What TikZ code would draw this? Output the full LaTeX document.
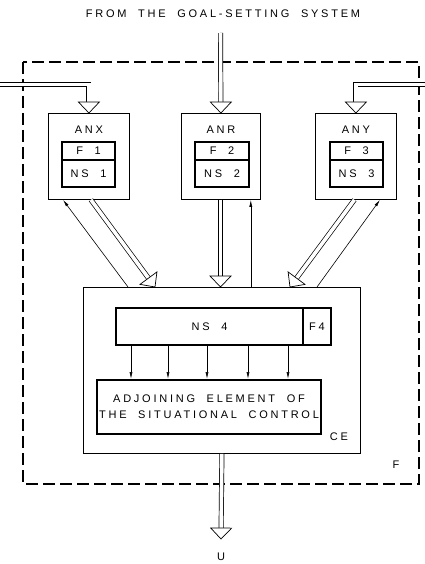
\documentclass[tikz,border=0pt]{standalone}
\usepackage{fontspec}
\setmainfont{Liberation Sans}[LetterSpace=25,WordSpace=2]
\usetikzlibrary{calc,arrows.meta}

\tikzset{
  lettering/.style={font=\fontsize{11}{14}\selectfont, inner sep=0pt},
  unitbox/.style={draw, line width=0.8pt, anchor=north west, inner sep=0pt},
  heavybox/.style={draw, line width=2pt, anchor=north west, inner sep=0pt, lettering},
  shaft/.style={double, double distance=3.6pt, line width=0.7pt, line join=miter},
  head/.style={line width=0.7pt, fill=white, line join=miter},
  sig/.style={line width=0.6pt, -{Latex[length=7pt,width=3pt]}},
  frame/.style={line width=1.1pt, dash pattern=on 12pt off 5pt}
}

% wide hollow arrow: head only, and shaft plus head
\newcommand{\hollowhead}[2]{%
  \coordinate (hb) at ($(#2)!11pt!(#1)$);
  \draw[head] (#2) -- ($(hb)!10.5pt!90:(#2)$) -- ($(hb)!10.5pt!-90:(#2)$) -- cycle;}
\newcommand{\widearrow}[2]{%
  \draw[shaft] (#1) -- ($(#2)!11pt!(#1)$);
  \hollowhead{#1}{#2}}

\begin{document}
\begin{tikzpicture}[x=1pt, y=-1pt]
  \useasboundingbox (0,0) rectangle (425,564);

  % Title
  \node[lettering] (title) at (223,14) {FROM THE GOAL-SETTING SYSTEM};

  % Frame F
  \draw[frame] (23,62) rectangle (419,484);
  \node[lettering] (flbl) at (396,465) {F};

  % Analysers
  \node[unitbox, minimum width=81pt, minimum height=86pt] (anx) at (48,113) {};
  \node[unitbox, minimum width=79pt, minimum height=86pt] (anr) at (181,113) {};
  \node[unitbox, minimum width=81pt, minimum height=86pt] (any) at (315,113) {};
  \node[lettering] (anxlbl) at ($(anx.north)+(0,17)$) {ANX};
  \node[lettering] (anrlbl) at ($(anr.north)+(0,17)$) {ANR};
  \node[lettering] (anylbl) at ($(any.north)+(0,17)$) {ANY};

  \node[heavybox, minimum width=53pt, minimum height=18pt] (f1) at (61,141) {F 1};
  \node[heavybox, minimum width=53pt, minimum height=27pt] (ns1) at (61,159) {NS 1};
  \node[heavybox, minimum width=54pt, minimum height=18pt] (f2) at (194,141) {F 2};
  \node[heavybox, minimum width=54pt, minimum height=27pt] (ns2) at (194,159) {NS 2};
  \node[heavybox, minimum width=53pt, minimum height=18pt] (f3) at (329,141) {F 3};
  \node[heavybox, minimum width=53pt, minimum height=27pt] (ns3) at (329,159) {NS 3};

  % Element CE
  \node[unitbox, minimum width=277pt, minimum height=166pt] (ce) at (83,287) {};
  \node[lettering] (celbl) at (339,437) {CE};
  \node[heavybox, minimum width=187pt, minimum height=37pt] (ns4) at (115,307) {NS 4};
  \node[heavybox, minimum width=28pt, minimum height=37pt] (f4) at (302,307) {F4};
  \node[heavybox, minimum width=224pt, minimum height=54pt, align=center] (adj) at (96,379)
    {ADJOINING ELEMENT OF\\[2pt]THE SITUATIONAL CONTROL};

  \foreach \x in {131,168,207,248,288} {
    \coordinate (c\x) at (\x,0);
    \draw[sig] (ns4.south -| c\x) -- (adj.north -| c\x);
  }

  % Inputs
  \coordinate (goal) at (220.5,33);
  \widearrow{goal}{anr.north}
  \coordinate (xin) at (0,84.5);
  \coordinate (xbend) at (xin -| anx.north);
  \draw[shaft] (xin) -| ($(anx.north)+(0,-11)$);
  \hollowhead{xbend}{anx.north}
  \coordinate (yin) at (425,84.5);
  \coordinate (ybend) at (yin -| any.north);
  \draw[shaft] (yin) -| ($(any.north)+(0,-11)$);
  \hollowhead{ybend}{any.north}

  % Links between analysers and CE
  \coordinate (xout) at ($(anx.south)+(2,0)$);
  \coordinate (xtip) at ($(ce.north west)+(72,0)$);
  \widearrow{xout}{xtip}
  \draw[sig] ($(ce.north west)+(45,0)$) -- ($(anx.south west)+(15,0)$);

  \coordinate (rout) at (220.5,199.5);
  \coordinate (rtip) at (220.5,287);
  \widearrow{rout}{rtip}
  \coordinate (rup) at ($(anr.south east)+(-10,0)$);
  \draw[sig] (ce.north -| rup) -- (rup);

  \coordinate (yout) at ($(any.south)+(-1.5,0)$);
  \coordinate (ytip) at ($(ce.north west)+(207,0)$);
  \widearrow{yout}{ytip}
  \draw[sig] ($(ce.north west)+(234,0)$) -- ($(any.south west)+(65,0)$);

  % Output U
  \coordinate (uout) at (ce.south);
  \coordinate (utip) at (221,539);
  \widearrow{uout}{utip}
  \node[lettering] (u) at (221,557) {U};
\end{tikzpicture}
\end{document}
